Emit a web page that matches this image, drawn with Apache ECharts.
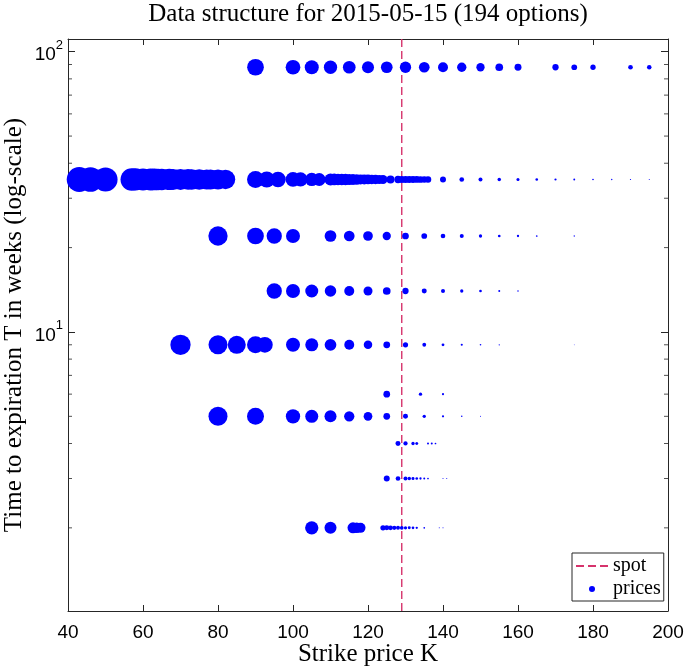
<!DOCTYPE html>
<html><head><meta charset="utf-8">
<script src="https://cdn.jsdelivr.net/npm/echarts@6/dist/echarts.min.js"></script>
<style>html,body{margin:0;padding:0;background:#fff}#c{width:685px;height:668px}</style>
</head><body><div id="c"></div>
<script>
// ---------- data ----------
const titleText = 'Data structure for 2015-05-15 (194 options)';
const spot = 129;                       // spot price (dashed line)
const expiryWeeks = [88, 35, 22, 14, 9, 6, 5, 4, 3, 2];

const strikesT88 = [90,100,105,110,115,120,125,130,135,140,145,150,155,160,170,175,180,190,195];
const pricesT88  = [38.3,29.6,26.9,24.3,22.1,19.8,18.8,17.5,15.7,13.7,11.9,9.4,8.1,6.7,5.4,4.5,3.9,3.0,2.8];

const strikesT35 = [43,46,50,57,58,60,62,63,64,65,67,68,70,72,73,75,77,78,80,82,90,93,96,100,102,105,107,
                    110,111,112,113,114,115,116,117,118,119,120,121,122,123,124,126,128,129,130,131,132,133,134,135,136,
                    140,145,150,155,160,165,170,175,180,185,190,195];
const pricesT35  = [86,83,80,69,68,67,66,65,64,63,62,61,60,59,58,57,56,55,54,52,39.6,35,33,30,28,24,22.5,
                    20,19,18.5,18,17.5,17,16,15,14,13.5,13,12.5,12,11.5,11,8.8,7.3,7.1,6.9,6.7,6.5,6.3,6.1,5.9,5.8,
                    4.9,3.0,2.2,1.7,1.3,0.93,0.66,0.5,0.35,0.27,0.2,0.14];

const strikesT22 = [80,90,95,100,110,115,120,125,130,135,140,145,150,155,160,165,175];
const pricesT22  = [51.1,38.3,32.1,26.9,18.8,15.7,12.9,9.4,6.2,4.5,3.0,2.2,1.5,1.0,0.73,0.40,0.23];

const strikesT14 = [95,100,105,110,115,120,125,130,135,140,145,150,155,160];
const pricesT14  = [32.1,26.9,23.2,18.1,13.7,11.1,8.1,5.4,3.4,2.2,1.5,1.0,0.55,0.31];

const strikesT9  = [70,80,85,90,92.5,100,105,110,115,120,125,130,135,140,145,150,155,175];
const pricesT9   = [56.5,49.5,44.4,39.6,33.8,26.9,23.2,18.8,13.5,9.9,6.3,3.7,2.0,1.08,0.6,0.35,0.23,0.09];

const strikesT6  = [125,134,140];
const pricesT6   = [6.2,1.5,0.6];

const strikesT5  = [80,90,100,105,110,115,120,125,130,135,140,145,150];
const pricesT5   = [49.5,39.6,28.1,23.2,19.8,14.5,10.4,6.2,3.4,1.5,0.66,0.31,0.14];

const strikesT4  = [128,130,132,133,136,137,138];
const pricesT4   = [3.4,2.5,1.5,1.23,0.55,0.55,0.4];

const strikesT3  = [125,128,130,131,132,133,134,135,136,140,141];
const pricesT3   = [4.9,3.0,2.2,1.7,1.23,1.0,0.73,0.55,0.4,0.14,0.14];

const strikesT2  = [105,110,116,117,118,124,125,126,127,128,129,130,131,132,133,135,139,140];
const pricesT2   = [24.3,19.8,16.6,15.1,13.7,3.9,3.4,3.0,2.5,2.2,1.9,1.5,1.23,1.0,0.73,0.4,0.14,0.14];

const xMin = 40, xMax = 200, xInterval = 20;
const yMin = 1.01, yMax = 111;
const yMinorTicks = [2,3,4,5,6,7,8,9,20,30,40,50,60,70,80,90];

// ---------- build ----------
const rows = [
  [expiryWeeks[0], strikesT88, pricesT88],
  [expiryWeeks[1], strikesT35, pricesT35],
  [expiryWeeks[2], strikesT22, pricesT22],
  [expiryWeeks[3], strikesT14, pricesT14],
  [expiryWeeks[4], strikesT9,  pricesT9],
  [expiryWeeks[5], strikesT6,  pricesT6],
  [expiryWeeks[6], strikesT5,  pricesT5],
  [expiryWeeks[7], strikesT4,  pricesT4],
  [expiryWeeks[8], strikesT3,  pricesT3],
  [expiryWeeks[9], strikesT2,  pricesT2]
];
const points = [];
rows.forEach(([T, ks, ps]) => ks.forEach((k, i) => points.push([k, T, ps[i]])));

const SERIF = 'Liberation Serif';
const SANS = 'Liberation Sans';
const AX = '#262626';
const SPOTC = '#d6336c';

const chart = echarts.init(document.getElementById('c'), null, {renderer: 'canvas'});
const axisCommonX = {
  type: 'value', min: xMin, max: xMax, interval: xInterval,
  axisLine: {show: true, onZero: false, lineStyle: {color: AX, width: 1}},
  axisTick: {show: true, inside: true, length: 6, lineStyle: {color: AX}},
  splitLine: {show: false}
};
const axisCommonY = {
  type: 'log', logBase: 10, min: yMin, max: yMax,
  axisLine: {show: true, onZero: false, lineStyle: {color: AX, width: 1}},
  axisTick: {show: true, inside: true, length: 7, lineStyle: {color: AX}},
  splitLine: {show: false}
};
function isPow10(v) { const e = Math.log10(v); return Math.abs(e - Math.round(e)) < 1e-6; }

chart.setOption({
  animation: false,
  backgroundColor: '#fff',
  graphic: [{
    type: 'text', x: 368, y: 2,
    style: {text: titleText, fontFamily: SERIF, fontSize: 25, fill: '#000', textAlign: 'center', textVerticalAlign: 'top'}
  }],
  grid: {left: 68, right: 17, top: 39, bottom: 57, containLabel: false, outerBoundsMode: 'none'},
  legend: {
    data: [{name: 'spot', itemStyle: {opacity: 0}}, {name: 'prices'}],
    orient: 'vertical', left: 572, top: 553,
    itemWidth: 32, itemHeight: 6, itemGap: 3,
    padding: [3, 3, 2, 3],
    borderColor: AX, borderWidth: 1, backgroundColor: '#fff',
    textStyle: {fontFamily: SERIF, fontSize: 20, color: '#000'},
    selectedMode: false
  },
  xAxis: [
    Object.assign({}, axisCommonX, {
      position: 'bottom',
      name: 'Strike price K', nameLocation: 'middle', nameGap: 31, nameMoveOverlap: false,
      nameTextStyle: {fontFamily: SERIF, fontSize: 25, color: '#000'},
      axisLabel: {show: true, margin: 12, fontFamily: SANS, fontSize: 19, color: '#000'}
    }),
    Object.assign({}, axisCommonX, {position: 'top', axisLabel: {show: false}})
  ],
  yAxis: [
    Object.assign({}, axisCommonY, {
      position: 'left',
      name: 'Time to expiration T in weeks (log-scale)', nameLocation: 'middle', nameGap: 41, nameMoveOverlap: false,
      nameTextStyle: {fontFamily: SERIF, fontSize: 25, color: '#000'},
      axisLabel: {
        show: true, margin: 5,
        formatter: v => isPow10(v) ? '{b|10}{s|' + Math.round(Math.log10(v)) + '}' : '',
        rich: {
          b: {fontFamily: SANS, fontSize: 19, color: '#000', lineHeight: 26, verticalAlign: 'bottom'},
          s: {fontFamily: SANS, fontSize: 13, color: '#000', lineHeight: 26, verticalAlign: 'top'}
        }
      }
    }),
    Object.assign({}, axisCommonY, {position: 'right', axisLabel: {show: false}})
  ],
  series: [
    {
      name: 'spot', type: 'line', xAxisIndex: 0, yAxisIndex: 0,
      data: [[spot, yMin], [spot, yMax]], symbol: 'none',
      lineStyle: {color: SPOTC, width: 1.4, type: [8, 4]},
      itemStyle: {color: SPOTC},
      silent: true, z: 2
    },
    {
      name: 'prices', type: 'scatter', xAxisIndex: 0, yAxisIndex: 0,
      data: points, symbol: 'circle',
      symbolSize: v => 2.7 * Math.sqrt(v[2]),
      itemStyle: {color: '#0000ff', opacity: 1},
      emphasis: {disabled: true}, silent: true, z: 3, clip: false
    },
    {
      name: 'minorL', type: 'scatter', xAxisIndex: 0, yAxisIndex: 0,
      data: yMinorTicks.map(v => [xMin, v]), symbol: 'rect', symbolSize: [4, 1], symbolOffset: [2, 0],
      itemStyle: {color: AX}, silent: true, clip: false, z: 4
    },
    {
      name: 'minorR', type: 'scatter', xAxisIndex: 0, yAxisIndex: 0,
      data: yMinorTicks.map(v => [xMax, v]), symbol: 'rect', symbolSize: [4, 1], symbolOffset: [-2, 0],
      itemStyle: {color: AX}, silent: true, clip: false, z: 4
    }
  ]
});
</script></body></html>
